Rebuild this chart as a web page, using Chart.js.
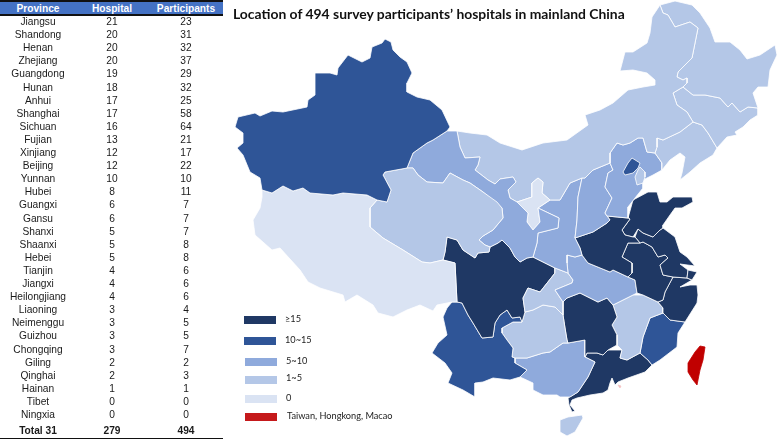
<!DOCTYPE html>
<html><head><meta charset="utf-8">
<style>
html,body{margin:0;padding:0;background:#fff;width:777px;height:440px;overflow:hidden}
#wrap{position:relative;width:777px;height:440px}
canvas{position:absolute;left:0;top:0}
.t{position:absolute;white-space:nowrap;line-height:1}
.c{transform:translate(-50%,-50%);font:10.2px "Liberation Sans",Arial,sans-serif;color:#1a1a1a}
.l{transform:translateY(-50%);font:9.2px Lato,sans-serif;color:#222}
.b{position:absolute}
</style>
<script src="https://cdn.jsdelivr.net/npm/chart.js@4"></script>
</head><body><div id="wrap"><canvas id="map" width="777" height="440"></canvas></div>
<script>
// Table
const provinces=["Jiangsu","Shandong","Henan","Zhejiang","Guangdong","Hunan","Anhui","Shanghai","Sichuan","Fujian","Xinjiang","Beijing","Yunnan","Hubei","Guangxi","Gansu","Shanxi","Shaanxi","Hebei","Tianjin","Jiangxi","Heilongjiang","Liaoning","Neimenggu","Guizhou","Chongqing","Giling","Qinghai","Hainan","Tibet","Ningxia"];
const hospitals=[21,20,20,20,19,18,17,17,16,13,12,12,10,8,6,6,5,5,5,4,4,4,3,3,3,3,2,2,1,0,0];
const participants=[23,31,32,37,29,32,25,58,64,21,17,22,10,11,7,7,7,8,8,6,6,6,4,5,5,7,2,3,1,0,0];
const tableHeader=["Province","Hospital","Participants"];
const tableTotal=["Total 31","279","494"];
const titleText="Location of 494 survey participants\u2019 hospitals in mainland China";
// Legend
const legendLabels=["\u226515","10~15","5~10","1~5","0","Taiwan, Hongkong, Macao"];
const legendColors=["#1F3864","#2F5597","#8FAADC","#B4C7E7","#DAE3F3","#C5191B"];
const otherColor="#C00000";
// Province outlines, in map units
const outlines={
Beijing:[[623,172],[628,163],[632,158],[640,163],[638,168],[633,173],[625,175]],
Tianjin:[[640,167],[645,172],[645,177],[643,183],[637,185],[635,177],[638,170]],
Shanghai:[[688,270],[697,272],[692,280],[687,278]],
Xinjiang:[[385,39],[391,42],[393,50],[400,57],[407,62],[412,73],[407,83],[407,92],[417,97],[430,100],[442,110],[450,127],[447,131],[433,140],[427,143],[413,153],[407,168],[385,172],[383,175],[391,190],[387,202],[377,200],[367,195],[343,193],[333,195],[310,193],[303,188],[293,191],[283,186],[272,193],[262,190],[260,178],[250,172],[243,155],[237,148],[243,143],[243,133],[235,127],[238,117],[255,113],[260,116],[272,111],[283,112],[307,107],[308,100],[315,95],[315,73],[330,73],[337,75],[338,68],[348,55],[362,62],[370,58],[372,47],[382,43]],
Tibet:[[262,190],[272,193],[283,186],[293,191],[303,188],[310,193],[333,195],[343,193],[367,195],[377,200],[370,208],[370,227],[383,238],[403,250],[422,262],[430,263],[443,260],[455,263],[457,302],[452,302],[437,305],[433,311],[420,305],[407,310],[393,317],[378,313],[373,305],[357,295],[345,302],[343,295],[320,288],[308,282],[300,270],[280,248],[272,250],[255,235],[253,220],[260,208],[262,197]],
Qinghai:[[385,172],[407,168],[413,168],[418,175],[427,182],[443,183],[450,173],[463,180],[470,183],[483,192],[497,202],[502,208],[503,218],[493,230],[483,236],[479,240],[485,245],[490,247],[489,252],[478,253],[475,258],[463,250],[457,240],[447,237],[445,252],[443,260],[430,263],[422,262],[403,250],[383,238],[370,227],[370,208],[377,200],[387,202],[391,190],[383,175]],
Gansu:[[447,131],[457,131],[460,147],[465,158],[480,157],[478,165],[475,170],[488,180],[495,184],[500,179],[513,177],[516,182],[508,190],[510,198],[517,202],[528,213],[527,222],[533,230],[540,222],[538,208],[559,218],[558,228],[550,230],[538,233],[537,243],[533,257],[527,258],[520,262],[515,257],[510,248],[502,240],[498,243],[490,247],[485,245],[479,240],[483,236],[493,230],[503,218],[502,208],[483,192],[470,183],[463,180],[450,173],[443,183],[427,182],[418,175],[413,168],[407,168],[413,153],[427,143],[433,140]],
Ningxia:[[517,202],[532,197],[532,183],[538,178],[543,182],[542,193],[550,200],[538,208],[540,222],[533,230],[527,222],[528,213]],
Neimenggu:[[457,131],[470,133],[487,135],[500,143],[522,150],[543,143],[567,140],[588,125],[585,115],[600,110],[613,103],[628,90],[643,87],[655,85],[655,80],[647,73],[633,70],[620,71],[625,52],[633,52],[647,43],[650,33],[652,17],[660,5],[663,13],[668,15],[675,27],[690,22],[698,28],[695,43],[692,58],[678,72],[677,77],[683,80],[687,78],[687,83],[683,87],[673,93],[677,105],[687,112],[693,122],[680,132],[663,140],[657,138],[657,147],[655,153],[647,152],[643,138],[638,138],[630,143],[623,145],[617,143],[610,153],[610,163],[593,170],[585,178],[582,178],[570,183],[560,200],[550,200],[542,193],[543,182],[538,178],[532,183],[532,197],[517,202],[510,198],[508,190],[516,182],[513,177],[500,179],[495,184],[488,180],[475,170],[478,165],[480,157],[465,158],[460,147]],
Heilongjiang:[[660,5],[675,1],[692,5],[700,13],[710,28],[715,42],[730,42],[740,50],[747,59],[760,55],[775,45],[777,55],[770,70],[768,87],[758,87],[753,93],[758,108],[748,107],[740,112],[732,103],[728,107],[720,98],[705,95],[693,95],[683,87],[687,83],[687,78],[683,80],[677,77],[678,72],[692,58],[695,43],[698,28],[690,22],[675,27],[668,15],[663,13]],
Giling:[[683,87],[693,95],[705,95],[720,98],[728,107],[732,103],[740,112],[748,107],[758,108],[758,115],[750,120],[743,127],[735,132],[737,135],[727,137],[717,148],[708,133],[702,125],[693,122],[687,112],[677,105],[673,93]],
Liaoning:[[693,122],[702,125],[708,133],[717,148],[713,155],[700,163],[690,172],[680,180],[682,173],[685,157],[680,153],[670,160],[662,170],[662,163],[655,153],[657,147],[657,138],[663,140],[680,132]],
Hebei:[[610,153],[617,143],[623,145],[630,143],[638,138],[643,138],[647,152],[655,153],[662,163],[662,170],[653,175],[643,180],[643,188],[635,198],[628,207],[628,218],[607,216],[605,213],[612,198],[605,187],[608,173],[613,170],[610,163]],
Shanxi:[[610,163],[613,170],[608,173],[605,187],[612,198],[605,213],[607,216],[610,220],[607,223],[593,232],[575,238],[577,220],[578,197],[582,178],[585,178],[593,170]],
Shaanxi:[[582,178],[578,197],[577,220],[575,238],[580,248],[582,255],[575,257],[567,255],[567,263],[568,273],[555,268],[543,262],[533,257],[537,243],[538,233],[550,230],[558,228],[559,218],[538,208],[550,200],[560,200],[570,183]],
Henan:[[607,216],[628,218],[630,219],[622,230],[625,235],[633,237],[635,237],[640,243],[628,243],[622,257],[632,263],[632,273],[628,277],[613,270],[610,272],[588,263],[582,255],[580,248],[575,238],[593,232],[607,223],[610,220]],
Shandong:[[628,218],[633,200],[648,192],[657,192],[660,202],[667,202],[673,197],[692,197],[693,202],[682,208],[675,208],[670,215],[663,225],[663,228],[660,230],[653,237],[643,233],[638,229],[633,237],[625,235],[622,230],[630,219]],
Jiangsu:[[635,237],[638,229],[643,233],[653,237],[660,230],[663,228],[675,237],[680,252],[687,257],[695,266],[680,264],[688,270],[687,278],[673,277],[663,275],[660,265],[668,258],[665,255],[658,257],[652,247],[643,242],[640,243]],
Anhui:[[628,243],[640,243],[643,242],[652,247],[658,257],[665,255],[668,258],[660,265],[663,275],[673,277],[665,292],[663,300],[658,302],[643,295],[637,293],[635,280],[628,277],[632,273],[632,263],[622,257]],
Zhejiang:[[673,277],[687,278],[692,280],[680,287],[690,285],[697,285],[698,295],[697,303],[685,322],[670,320],[663,313],[663,308],[658,302],[663,300],[665,292]],
Hubei:[[567,255],[575,257],[582,255],[588,263],[610,272],[613,270],[628,277],[635,280],[637,293],[633,295],[613,305],[607,298],[598,302],[580,293],[567,298],[563,302],[555,290],[572,283],[573,280],[568,273],[567,263]],
Chongqing:[[555,268],[568,273],[573,280],[572,283],[555,290],[563,302],[563,315],[555,307],[543,305],[533,310],[525,312],[523,298],[528,288],[540,292],[555,273]],
Sichuan:[[447,237],[457,240],[463,250],[475,258],[478,253],[489,252],[490,247],[498,243],[502,240],[510,248],[515,257],[520,262],[527,258],[533,257],[543,262],[555,268],[555,273],[540,292],[528,288],[523,298],[525,312],[522,322],[520,317],[512,318],[507,310],[500,315],[495,323],[493,337],[482,338],[473,323],[468,315],[462,303],[457,302],[455,263],[443,260],[445,252]],
Yunnan:[[452,302],[457,302],[462,303],[468,315],[473,323],[482,338],[493,337],[495,323],[500,315],[507,310],[512,318],[520,317],[522,322],[513,322],[502,328],[502,333],[507,340],[513,348],[512,357],[515,358],[515,363],[527,370],[520,377],[510,380],[493,378],[483,382],[475,383],[475,397],[463,390],[448,383],[452,373],[445,363],[432,353],[438,343],[447,335],[443,317],[447,308]],
Guizhou:[[502,328],[513,322],[522,322],[525,312],[533,310],[543,305],[555,307],[563,315],[565,328],[567,340],[568,343],[563,343],[550,352],[543,353],[527,358],[515,358],[512,357],[513,348],[507,340],[502,333]],
Hunan:[[563,302],[567,298],[580,293],[598,302],[607,298],[613,305],[617,317],[612,325],[617,335],[617,345],[608,350],[603,355],[597,353],[587,353],[585,357],[585,340],[568,343],[567,340],[565,328],[563,315]],
Jiangxi:[[613,305],[633,295],[643,295],[658,302],[663,308],[663,313],[650,318],[643,337],[640,353],[627,360],[620,358],[622,350],[617,345],[617,335],[612,325],[617,317]],
Fujian:[[663,313],[670,320],[685,322],[678,333],[677,347],[660,360],[652,365],[648,360],[640,353],[643,337],[650,318]],
Guangxi:[[515,358],[527,358],[543,353],[550,352],[563,343],[568,343],[585,340],[585,357],[595,362],[588,377],[578,392],[570,397],[560,397],[557,395],[543,395],[533,390],[533,383],[520,377],[527,370],[515,363]],
Guangdong:[[587,353],[597,353],[603,355],[608,350],[622,350],[620,358],[627,360],[640,353],[648,360],[652,365],[645,372],[628,378],[618,382],[615,385],[612,378],[610,383],[608,390],[603,393],[590,395],[577,398],[572,400],[570,405],[575,411],[572,412],[569,405],[568,398],[578,392],[588,377],[595,362],[585,357]],
Hainan:[[560,420],[568,417],[582,415],[583,418],[575,432],[567,436],[560,432]]
};
const outlineTaiwan=[[700,346],[705,347],[703,360],[700,370],[697,385],[693,380],[688,372],[688,363],[695,352]];
const outlineHongkong=[[618,385],[621,386],[620,388]];

function shade(n){return n>=15?legendColors[0]:n>=10?legendColors[1]:n>=5?legendColors[2]:n>=1?legendColors[3]:legendColors[4];}
function ds(pts,fillCol,line){
  const d=pts.concat([pts[0]]).map(p=>({x:p[0],y:p[1]}));
  return {data:d,showLine:true,fill:'shape',backgroundColor:fillCol,borderColor:line,borderWidth:0.8,pointRadius:0,pointHoverRadius:0,tension:0,clip:false};
}
const datasets=Object.keys(outlines).map(name=>ds(outlines[name],shade(hospitals[provinces.indexOf(name)]),'#ffffff'));
datasets.push(ds(outlineTaiwan,otherColor,otherColor));
datasets.push(ds(outlineHongkong,'#f4b0b0','#f4c8c8'));
new Chart(document.getElementById('map'),{type:'scatter',data:{datasets},options:{
  responsive:false,animation:false,events:[],layout:{padding:0},
  plugins:{legend:{display:false},title:{display:false},tooltip:{enabled:false}},
  scales:{x:{type:'linear',display:false,min:0,max:777},y:{type:'linear',display:false,min:0,max:440,reverse:true}}
}});

// Table, title and legend as real text
const wrap=document.getElementById('wrap');
function box(x,y,w,h,c){const e=document.createElement('div');e.className='b';e.style.cssText=`left:${x}px;top:${y}px;width:${w}px;height:${h}px;background:${c}`;wrap.appendChild(e);}
function text(cls,s,x,y,extra){const e=document.createElement('div');e.className='t '+cls;e.textContent=s;e.style.left=x+'px';e.style.top=y+'px';if(extra)e.style.cssText+=extra;wrap.appendChild(e);}
box(0,1,223,14,'#4472C4');box(0,0,223,1.5,'#111');box(0,14,223,1.5,'#111');box(0,437.5,223,1.5,'#111');
const colX=[38,112,186];
tableHeader.forEach((s,i)=>text('c',s,colX[i],8,'color:#fff;font-weight:bold;'));
provinces.forEach((p,r)=>{const y=21+r*13.1;
  [p,hospitals[r],participants[r]].forEach((v,i)=>text('c',String(v),colX[i],y));});
tableTotal.forEach((s,i)=>text('c',s,colX[i],430,'font-weight:bold;'));
text('l',titleText,233,12.5,'font:bold 13.9px Lato,sans-serif;color:#111;');
const swatchY=[315.5,337,358,376,395,413],swatchX=[244,244,245,245,245,245];
const labelX=[285,285,286,286,286,287],labelY=[318,339,360,377,397,415];
legendLabels.forEach((s,i)=>{box(swatchX[i],swatchY[i],32,8,legendColors[i]);text('l',s,labelX[i],labelY[i]);});
</script></body></html>
